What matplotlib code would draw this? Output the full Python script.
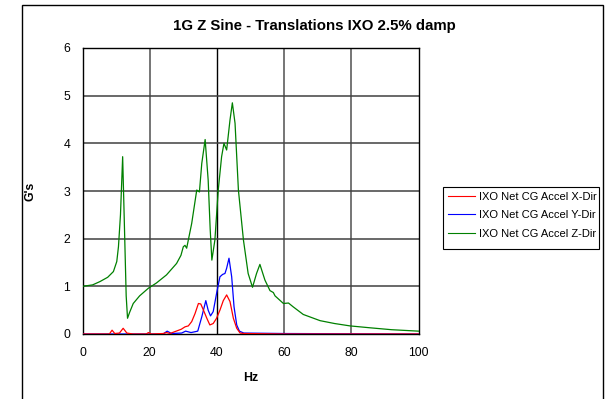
import matplotlib
matplotlib.use("Agg")
import matplotlib.pyplot as plt
from matplotlib.patches import Rectangle

plt.rcParams['font.family'] = ['Liberation Sans', 'DejaVu Sans']

# Frequency response samples (Hz, G's)
x_freq = [0, 8, 8.8, 9.6, 11, 12.1, 13.2, 15, 19, 19.6, 20.5, 24, 25, 26, 29.4, 30.5,
          31.5, 32.5, 33.5, 34.5, 35.2, 36.0, 37.0, 37.9, 38.9, 39.9, 40.9, 41.9,
          42.9, 43.9, 44.9, 45.9, 46.9, 48, 60, 100]
x_accel = [0.0, 0.0, 0.08, 0.01, 0.02, 0.12, 0.02, 0.0, 0.0, 0.03, 0.0, 0.01, 0.03, 0.01,
           0.1, 0.15, 0.17, 0.26, 0.43, 0.64, 0.63, 0.5, 0.33, 0.19, 0.22, 0.33, 0.5,
           0.70, 0.82, 0.68, 0.33, 0.12, 0.02, 0.01, 0.0, 0.0]

y_freq = [0, 24, 25.2, 26.5, 29.5, 30.7, 32.3, 34.3, 35.5, 36.7, 37.4, 38.1, 38.9, 39.9,
          40.9, 41.7, 42.4, 42.9, 43.6, 44.4, 45.1, 45.9, 46.7, 48, 60, 100]
y_accel = [0.0, 0.0, 0.06, 0.01, 0.02, 0.06, 0.03, 0.06, 0.36, 0.70, 0.5, 0.38, 0.47,
           0.85, 1.2, 1.25, 1.27, 1.38, 1.59, 1.2, 0.57, 0.19, 0.06, 0.02, 0.01, 0.0]

z_freq = [0, 3, 5.2, 7.5, 9.2, 10.2, 10.7, 11.3, 11.95, 12.5, 13.0, 13.4, 14.0, 15.1,
          17, 19.6, 22, 25.0, 28.0, 29.3, 30.0, 30.5, 31.0, 32.5, 34.0, 34.8, 35.5,
          36.5, 37.4, 38.0, 38.5, 39.4, 40.4, 41.4, 42.1, 42.9, 43.9, 44.6, 45.4,
          46.4, 47.9, 49.3, 50.6, 51.8, 52.8, 54.3, 55.8, 56.8, 57.3, 59.8, 61.3,
          62.7, 65.7, 70.7, 75, 79.6, 85.6, 92, 100]
z_accel = [1.0, 1.03, 1.10, 1.19, 1.31, 1.52, 1.83, 2.5, 3.72, 2.2, 0.8, 0.33, 0.45,
           0.64, 0.80, 0.96, 1.07, 1.24, 1.48, 1.65, 1.83, 1.86, 1.80, 2.32, 3.02,
           2.98, 3.58, 4.08, 3.23, 2.2, 1.55, 1.97, 3.02, 3.72, 4.0, 3.86, 4.49, 4.85,
           4.42, 3.02, 1.97, 1.27, 0.98, 1.27, 1.46, 1.13, 0.91, 0.87, 0.80, 0.64,
           0.65, 0.57, 0.41, 0.28, 0.22, 0.17, 0.13, 0.09, 0.06]

series_labels = ["IXO Net CG Accel X-Dir", "IXO Net CG Accel Y-Dir", "IXO Net CG Accel Z-Dir"]
x_ticks = [0, 20, 40, 60, 80, 100]
y_ticks = [0, 1, 2, 3, 4, 5, 6]

W, H = 610, 399
fig = plt.figure(figsize=(W / 100, H / 100), dpi=100)
fig.patch.set_facecolor("white")

# outer chart frame
fig.patches.append(Rectangle((22 / W, -0.05), (603 - 22) / W, 1 - 5 / H + 0.05,
                             transform=fig.transFigure, fill=False, edgecolor="black",
                             linewidth=1.0, clip_on=False))

ax = fig.add_axes([82.5 / W, 1 - 334 / H, (418.5 - 82.5) / W, (334 - 48) / H])

for v in [20, 60, 80]:
    ax.axvline(v, color="#6a6a6a", linewidth=1.3, zorder=1)
ax.axvline(40, color="black", linewidth=1.0, zorder=1)
for h in y_ticks[1:]:
    ax.axhline(h, color="#404040", linewidth=1.1, zorder=1)

ax.plot(z_freq, z_accel, color="#008000", linewidth=0.9, label=series_labels[2], zorder=3)
ax.plot(y_freq, y_accel, color="#0000ff", linewidth=0.9, label=series_labels[1], zorder=4)
ax.plot(x_freq, x_accel, color="#ff0000", linewidth=0.9, label=series_labels[0], zorder=5)

ax.set_xlim(0, 100)
ax.set_ylim(0, 6)
ax.set_xticks(x_ticks)
ax.set_yticks(y_ticks)
ax.tick_params(length=0, labelsize=8.8, pad=9)
for s in ax.spines.values():
    s.set_color("black")
    s.set_linewidth(1.0)

ax.set_xlabel("Hz", fontsize=8.8, fontweight="bold", labelpad=10)
ax.set_ylabel("G's", fontsize=8.8, fontweight="bold", labelpad=19)

fig.text(314 / W, 1 - 26 / H, "1G Z Sine - Translations IXO 2.5% damp",
         ha="center", va="center", fontsize=10.8, fontweight="bold")

# legend box
fig.patches.append(Rectangle((443 / W, 1 - 248.5 / H), (599 - 443) / W, (248.5 - 187) / H,
                             transform=fig.transFigure, fill=True, facecolor="white",
                             edgecolor="black", linewidth=0.8, zorder=5))
handles, labels = ax.get_legend_handles_labels()
order = [2, 1, 0]
leg = fig.legend([handles[i] for i in order], [labels[i] for i in order],
                 loc="upper left", bbox_to_anchor=(447.5 / W, 1 - 191.5 / H),
                 fontsize=8.0, frameon=False,
                 handlelength=2.45, handletextpad=0.35, borderpad=0.0, labelspacing=0.77,
                 borderaxespad=0)
leg.set_zorder(6)
for line in leg.get_lines():
    line.set_linewidth(0.8)

fig.savefig("out.png", dpi=100, facecolor="white")
